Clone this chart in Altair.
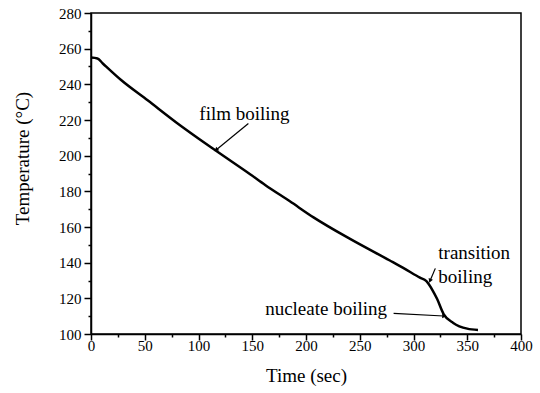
import altair as alt
import pandas as pd

# Cooling curve
time_s = [0, 6, 11, 28, 53, 79, 115, 148, 162, 185, 207, 241, 278, 290, 306, 312, 318, 322, 328, 337, 350, 360]
temp_c = [255, 254.5, 251.7, 242.4, 230.9, 218.8, 203.3, 189.6, 183.6, 174.4, 165.4, 153.3, 141.2, 137.2,
          131.6, 129.6, 124.2, 119.6, 111.2, 106.2, 103.0, 102.3]

# Annotations (data coordinates)
label_text = ["film boiling", "transition", "boiling", "nucleate boiling"]
label_x = [100.8, 323.1, 323.1, 162]
label_y = [219.9, 141.9, 128.7, 110.6]

arrow_x = [146.4, 320.3, 281.5]
arrow_y = [218.0, 136.8, 111.6]
arrow_x2 = [116.9, 315.6, 328.0]
arrow_y2 = [203.5, 130.2, 110.1]
arrow_angle = [230, 203, 93]

x_ticks = list(range(0, 401, 25))
y_ticks = list(range(100, 281, 10))

FONT = "Times New Roman, Liberation Serif, serif"

curve = pd.DataFrame({"t": time_s, "T": temp_c})
labels = pd.DataFrame({"text": label_text, "x": label_x, "y": label_y})
arrows = pd.DataFrame({"x": arrow_x, "y": arrow_y, "x2": arrow_x2, "y2": arrow_y2, "angle": arrow_angle})

xscale = alt.Scale(domain=[0, 400], nice=False, zero=False)
yscale = alt.Scale(domain=[100, 280], nice=False, zero=False)

xaxis = alt.Axis(
    values=x_ticks,
    tickCount=100,
    labelExpr="datum.value % 50 === 0 ? datum.label : ''",
    tickSize={"condition": {"test": "datum.value % 50 === 0", "value": 6}, "value": 3},
    labelPadding=-2,
    labelOverlap=False,
    labelFlush=False,
    labelBound=False,
    title="Time (sec)",
    titleY=41,
    titleBaseline="middle",
)
yaxis = alt.Axis(
    values=y_ticks,
    tickCount=100,
    labelExpr="datum.value % 20 === 0 ? datum.label : ''",
    tickSize={"condition": {"test": "datum.value % 20 === 0", "value": 7}, "value": 3},
    labelPadding=3,
    labelOverlap=False,
    labelFlush=False,
    labelBound=False,
    title="Temperature (°C)",
    titleAngle=270,
    titleX=-69,
    titleY=145,
    titleAlign="center",
    titleBaseline="middle",
)

line = alt.Chart(curve).mark_line(color="black", strokeWidth=2.5, interpolate="monotone").encode(
    x=alt.X("t:Q", scale=xscale, axis=xaxis),
    y=alt.Y("T:Q", scale=yscale, axis=yaxis),
)

text = alt.Chart(labels).mark_text(
    font=FONT, fontSize=19, align="left", baseline="alphabetic", color="black"
).encode(x=alt.X("x:Q", scale=xscale), y=alt.Y("y:Q", scale=yscale), text="text:N")

arrow_lines = alt.Chart(arrows).mark_rule(color="black", strokeWidth=1.2).encode(
    x=alt.X("x:Q", scale=xscale), y=alt.Y("y:Q", scale=yscale),
    x2="x2:Q", y2="y2:Q",
)

heads = alt.Chart(arrows).mark_point(
    shape="triangle", filled=True, color="black", size=22, opacity=1
).encode(
    x=alt.X("x2:Q", scale=xscale), y=alt.Y("y2:Q", scale=yscale),
    angle=alt.Angle("angle:Q", scale=None),
)

chart = alt.layer(line, arrow_lines, heads, text).properties(
    width=430,
    height=321,
    autosize=alt.AutoSizeParams(type="none"),
    padding={"left": 91, "top": 13, "right": 19, "bottom": 59},
    background="white",
).configure_view(
    stroke="black", strokeWidth=1.5
).configure_axis(
    domainColor="black", domainWidth=1.5,
    tickColor="black", tickWidth=1.5,
    labelFont=FONT, labelFontSize=15, labelColor="black",
    titleFont=FONT, titleFontSize=19, titleFontWeight="normal", titleColor="black",
    grid=False,
)

chart.save("out.html", embed_options={"renderer": "svg", "actions": False})
